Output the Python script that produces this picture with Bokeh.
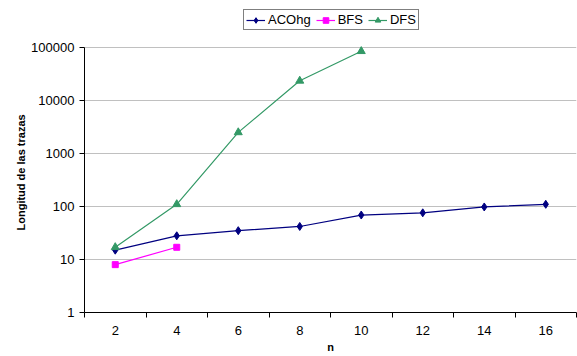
from bokeh.plotting import figure
from bokeh.models import FixedTicker, NumeralTickFormatter, Legend, LegendItem, Range1d, Title
from bokeh.embed import file_html
from bokeh.resources import INLINE

n_vals = [2, 4, 6, 8, 10, 12, 14, 16]
aco_n = [2, 4, 6, 8, 10, 12, 14, 16]
aco_vals = [15, 28, 35, 42, 69, 76, 98, 110]
bfs_n = [2, 4]
bfs_vals = [8, 17]
dfs_n = [2, 4, 6, 8, 10]
dfs_vals = [17, 110, 2500, 23500, 85000]
y_ticks = [1, 10, 100, 1000, 10000, 100000]

FONT = "Liberation Sans"

# frame extends above the top decade to leave room for the legend
y_top = 10 ** (5 + 47 / 53)

p = figure(width=577, height=356, y_axis_type="log",
           x_range=Range1d(1, 17), y_range=Range1d(1, y_top),
           output_backend="svg", toolbar_location=None,
           min_border_left=84, min_border_right=1, min_border_top=0, min_border_bottom=44)
p.outline_line_color = None
p.background_fill_color = "white"

aco_l = p.line(aco_n, aco_vals, line_color="#000080", line_width=1.2)
aco_m = p.scatter(aco_n, aco_vals, marker="diamond", size=8, fill_color="#000080", line_color="#000080")
bfs_l = p.line(bfs_n, bfs_vals, line_color="#FF00FF", line_width=1.2)
bfs_m = p.scatter(bfs_n, bfs_vals, marker="square", size=6, fill_color="#FF00FF", line_color="#FF00FF")
dfs_l = p.line(dfs_n, dfs_vals, line_color="#339966", line_width=1.2)
dfs_m = p.scatter(dfs_n, dfs_vals, marker="triangle", size=8, fill_color="#339966", line_color="#339966")

# x axis
p.xaxis.ticker = FixedTicker(ticks=n_vals, minor_ticks=[1, 3, 5, 7, 9, 11, 13, 15, 17])
p.xaxis.major_tick_out = 0
p.xaxis.major_tick_in = 0
p.xaxis.minor_tick_out = 5
p.xaxis.minor_tick_in = 0
p.xaxis.minor_tick_line_color = "black"
p.xaxis.axis_line_color = "black"
p.xaxis.major_label_standoff = 8
p.xaxis.major_label_text_font = FONT
p.xaxis.major_label_text_font_size = "13px"
p.xaxis.major_label_text_color = "black"
p.xaxis.axis_label = "n"
p.xaxis.axis_label_text_font = FONT
p.xaxis.axis_label_text_font_size = "11px"
p.xaxis.axis_label_text_font_style = "bold"
p.xaxis.axis_label_text_color = "black"
p.xaxis.axis_label_standoff = 3
p.xgrid.grid_line_color = None

# y axis
p.yaxis.ticker = FixedTicker(ticks=y_ticks, minor_ticks=[])
p.yaxis.formatter = NumeralTickFormatter(format="0")
p.yaxis.bounds = (y_ticks[0], y_ticks[-1])
p.yaxis.major_tick_out = 5
p.yaxis.major_tick_in = 0
p.yaxis.minor_tick_out = 0
p.yaxis.minor_tick_in = 0
p.yaxis.major_tick_line_color = "black"
p.yaxis.axis_line_color = "black"
p.yaxis.major_label_standoff = 5
p.yaxis.major_label_text_font = FONT
p.yaxis.major_label_text_font_size = "13px"
p.yaxis.major_label_text_color = "black"
p.ygrid.grid_line_color = "#c0c0c0"
p.ygrid.grid_line_width = 1

ytitle = Title(text="Longitud de las trazas", align="left", offset=82,
               text_font=FONT, text_font_size="11px", text_font_style="bold",
               text_color="black", standoff=4)
p.add_layout(ytitle, "left")

legend = Legend(items=[
    LegendItem(label="ACOhg", renderers=[aco_l, aco_m]),
    LegendItem(label="BFS", renderers=[bfs_l, bfs_m]),
    LegendItem(label="DFS", renderers=[dfs_l, dfs_m]),
], orientation="horizontal", location=(159, 282))
legend.border_line_color = "black"
legend.border_line_width = 1
legend.background_fill_alpha = 1
legend.label_text_font = FONT
legend.label_text_font_size = "13px"
legend.label_text_color = "black"
legend.glyph_width = 19
legend.glyph_height = 14
legend.label_standoff = 3
legend.spacing = 5
legend.padding = 2
legend.margin = 0
legend.label_height = 14
p.add_layout(legend, "center")

open("out.html", "w").write(file_html(p, INLINE))
